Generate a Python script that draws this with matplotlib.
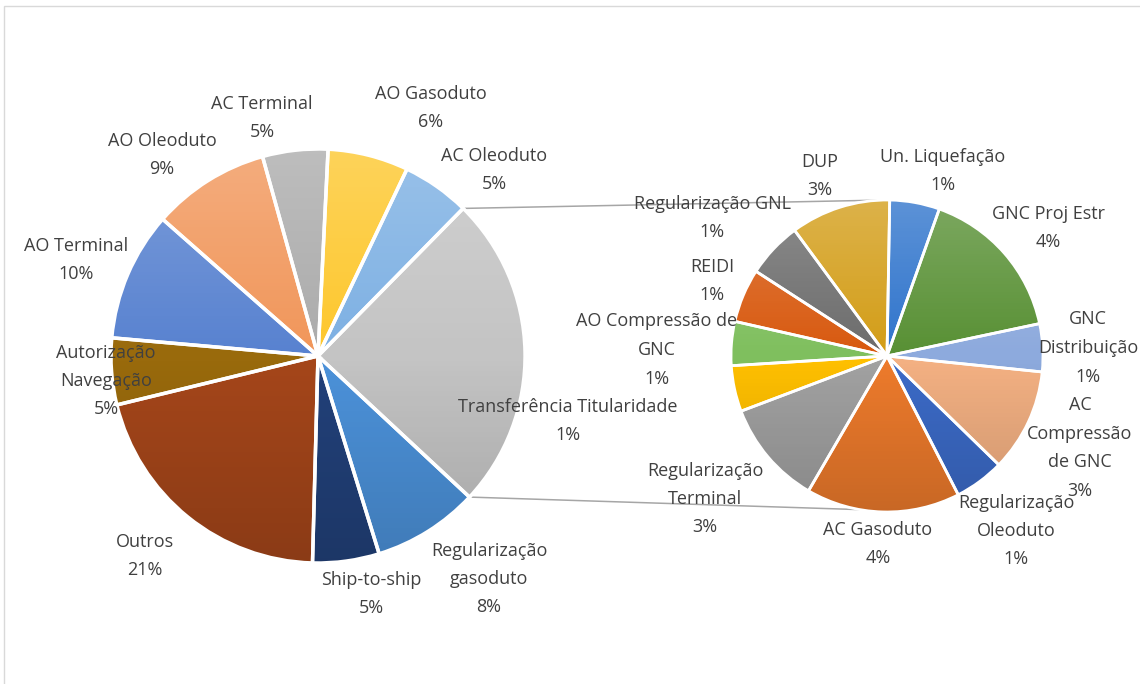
import numpy as np
import matplotlib
matplotlib.use('Agg')
import matplotlib.pyplot as plt
from matplotlib.patches import Rectangle, Wedge

# main pie, clockwise from 12 o'clock
main_names = ['AO Gasoduto', 'AC Oleoduto', None, 'Regularização\ngasoduto',
              'Ship-to-ship', 'Outros', 'Autorização\nNavegação', 'AO Terminal',
              'AO Oleoduto', 'AC Terminal']
main_vals = [6.3, 5.3, None, 8.3, 5.2, 20.8, 5.2, 10.1, 9.2, 5.1]
main_colors = ['#FDC72C', '#7DB0E3', '#C4C4C4', '#4C92DA', '#22417A',
               '#A5461A', '#996A0C', '#5882D0', '#F1965A', '#ABABAB']

# secondary pie (the "Transferência" group), clockwise from 12 o'clock
sec_names = ['Un. Liquefação', 'GNC Proj Estr', 'GNC\nDistribuição',
             'AC\nCompressão\nde GNC', 'Regularização\nOleoduto', 'AC Gasoduto',
             'Regularização\nTerminal', 'Transferência Titularidade',
             'AO Compressão de\nGNC', 'REIDI', 'Regularização GNL', 'DUP']
sec_vals = [1.27, 3.99, 1.22, 2.62, 1.27, 3.92, 2.67, 1.17, 1.12, 1.37, 1.42, 2.55]
sec_colors = ['#2F74CC', '#589034', '#8DAADD', '#F4B183', '#3C6BC8', '#EE7B2C',
              '#A2A2A2', '#FFC000', '#7FBF5E', '#D8590F', '#6C6C6C', '#D39D17']

main_vals[2] = sum(sec_vals)

# label anchor points (pixels, top-left origin)
main_lbl_pos = [(431, 108), (494, 170), None, (489, 579), (371, 594),
                (145, 556), (106, 381), (76, 260), (162, 155), (262, 118)]
sec_lbl_pos = [(943, 171), (1048, 228), (1088, 348), (1080, 448), (1016, 531),
               (878, 544), (705, 499), (568, 421), (657, 350), (712, 281),
               (712, 218), (820, 176)]

W, H = 1140, 684
def P(x, y):
    return x, H - y

fig = plt.figure(figsize=(11.4, 6.84), dpi=100)
ax = fig.add_axes([0, 0, 1, 1])

c1, r1 = P(318, 356), 207
c2, r2 = P(887, 356), 156

explode = [0.0] * len(main_vals)
explode[2] = 0.05
explode[5] = 0.015
wedges1, _ = ax.pie(main_vals, colors=main_colors, startangle=87.2,
                    counterclock=False, center=c1, radius=r1, explode=explode,
                    wedgeprops=dict(linewidth=0))
wedges2, _ = ax.pie(sec_vals, colors=sec_colors, startangle=89,
                    counterclock=False, center=c2, radius=r2,
                    wedgeprops=dict(linewidth=0))

# excel-ish gradient: lighter on top, darker at the bottom
t = np.linspace(0, 1, 256)
shade = np.zeros((256, 1, 4))
top = t < 0.5
shade[top, 0, :3] = 1.0
shade[top, 0, 3] = 0.22 * (1 - t[top] / 0.5)
shade[~top, 0, 3] = 0.16 * (t[~top] - 0.5) / 0.5

def overlay(wedges, lw):
    for w in wedges:
        cx, cy = w.center
        r = w.r
        im = ax.imshow(shade, extent=(cx - r, cx + r, cy - r, cy + r),
                       origin='upper', aspect='auto', zorder=2)
        im.set_clip_path(w)
        ax.add_patch(Wedge(w.center, w.r, w.theta1, w.theta2, facecolor='none',
                           edgecolor='white', lw=lw, zorder=3))

overlay(wedges1, 2.5)
overlay(wedges2, 2)

# connector lines
g = wedges1[2]
gx, gy = g.center
for a, b in [(g.theta2, 90), (g.theta1, 260)]:
    x0 = gx + g.r * np.cos(np.radians(a))
    y0 = gy + g.r * np.sin(np.radians(a))
    x1 = c2[0] + r2 * np.cos(np.radians(b))
    y1 = c2[1] + r2 * np.sin(np.radians(b))
    ax.plot([x0, x1], [y0, y1], color='#A6A6A6', lw=1.1, zorder=1)

tkw = dict(ha='center', va='center', fontsize=13, color='#404040',
           family='Open Sans', linespacing=1.75, zorder=5)
for n, v, p in zip(main_names, main_vals, main_lbl_pos):
    if n is None:
        continue
    ax.text(*P(*p), f'{n}\n{round(v)}%', **tkw)
for n, v, p in zip(sec_names, sec_vals, sec_lbl_pos):
    ax.text(*P(*p), f'{n}\n{round(v)}%', **tkw)

ax.add_patch(Rectangle(P(4, 700), 1200, 694, fill=False, edgecolor='#D9D9D9', lw=1))

ax.set_xlim(0, W)
ax.set_ylim(0, H)
ax.set_aspect('equal')
ax.axis('off')
fig.savefig('out.png', dpi=100, facecolor='white')
